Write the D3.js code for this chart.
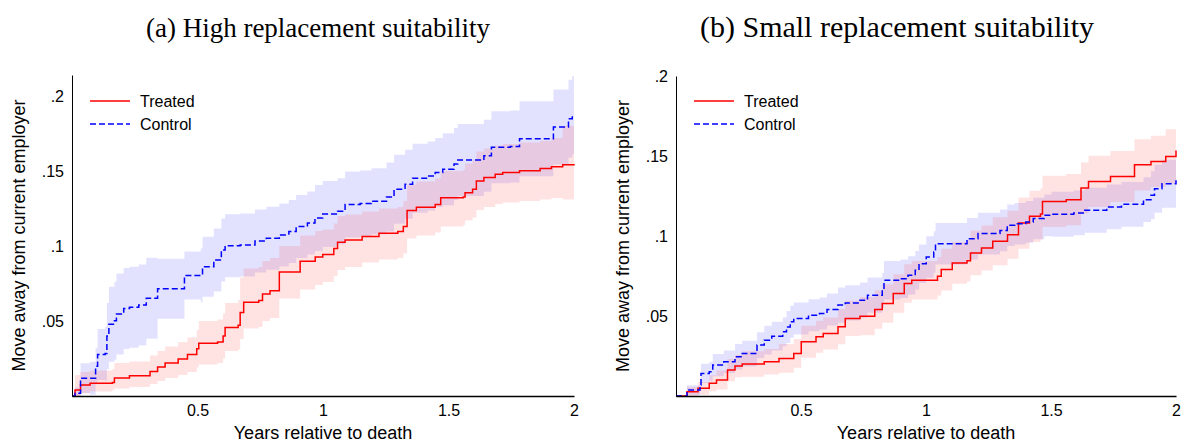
<!DOCTYPE html>
<html><head><meta charset="utf-8">
<script src="https://cdn.jsdelivr.net/npm/d3@7"></script>
<style>body{margin:0;background:#fff}</style></head>
<body><svg id="c" width="1182" height="441"></svg>
<script>
const titles = ["(a) High replacement suitability", "(b) Small replacement suitability"];
const xTicks = [0.5, 1, 1.5, 2];
const xTickLabels = ["0.5", "1", "1.5", "2"];
const yTicks = [0.05, 0.1, 0.15, 0.2];
const yTickLabels = [".05", ".1", ".15", ".2"];
const legendLabels = ["Treated", "Control"];

// Panel (a)
const treatedA_x = [0,.012,.034,.072,.161,.169,.229,.311,.341,.371,.423,.46,.497,.505,.58,.602,.61,.662,.67,.684,.744,.759,.789,.826,.901,.909,.969,.999,1.043,1.058,1.088,1.141,1.156,1.223,1.298,1.32,1.335,1.372,1.447,1.469,1.559,1.566,1.596,1.611,1.641,1.686,1.716,1.783,1.865,1.91,1.955,2];
const treatedA_y = [0,.004,.0074,.0085,.009,.012,.0135,.0164,.0193,.022,.0247,.0276,.0315,.0351,.036,.04,.0456,.0472,.0557,.0625,.0636,.068,.0702,.0826,.0826,.0898,.0927,.0943,.0984,.1025,.104,.104,.1063,.1085,.1097,.113,.1236,.1258,.1276,.1321,.1326,.1355,.1378,.1434,.1456,.1479,.149,.1501,.1517,.1528,.1542,.1546];
const treatedA_lo = [0,0,.002,.003,.004,.005,.006,.008,.01,.012,.014,.016,.019,.021,.022,.025,.03,.031,.038,.045,.046,.05,.052,.065,.065,.071,.074,.076,.08,.084,.086,.086,.089,.091,.092,.095,.105,.107,.109,.113,.114,.117,.119,.124,.126,.128,.129,.13,.131,.132,.131,.131];
const treatedA_hi = [0,.014,.016,.017,.018,.022,.023,.027,.03,.033,.036,.039,.044,.05,.051,.055,.062,.064,.079,.085,.086,.09,.092,.1,.1,.107,.11,.111,.115,.12,.121,.121,.123,.125,.126,.13,.141,.143,.145,.15,.151,.155,.157,.163,.165,.167,.168,.169,.17,.172,.18,.181];
const controlA_x = [0,.012,.034,.072,.094,.102,.132,.139,.147,.169,.177,.206,.229,.266,.296,.341,.446,.448,.513,.52,.565,.595,.61,.67,.729,.774,.826,.864,.893,.938,.968,.999,1.028,1.058,1.088,1.148,1.193,1.253,1.283,1.327,1.357,1.417,1.447,1.477,1.522,1.537,1.619,1.641,1.671,1.746,1.783,1.903,1.918,1.955,1.978,1.993,2];
const controlA_y = [0,.0018,.0119,.0119,.0198,.0276,.0283,.04,.0479,.0501,.0546,.0584,.0591,.0607,.0652,.0715,.0715,.0804,.0804,.0861,.0906,.0973,.1002,.1007,.1034,.1052,.1074,.1097,.113,.1153,.1187,.1213,.1213,.1231,.1276,.1283,.1299,.1326,.1378,.1411,.1452,.1467,.149,.1512,.1546,.1573,.1573,.1602,.1658,.1663,.1715,.1715,.1793,.1793,.1849,.1872,.1872];
const controlA_hw = [0,.004,.01,.011,.012,.017,.018,.022,.025,.026,.027,.027,.027,.027,.027,.02,.02,.016,.018,.02,.021,.021,.021,.021,.021,.021,.021,.021,.021,.021,.022,.022,.022,.022,.022,.022,.022,.023,.023,.023,.023,.023,.023,.024,.024,.024,.024,.024,.024,.024,.025,.025,.025,.025,.026,.026,.026];

// Panel (b)
const treatedB_x = [0,.044,.088,.133,.162,.206,.236,.265,.353,.412,.471,.501,.56,.589,.648,.677,.736,.795,.825,.869,.913,.943,.987,1.046,1.061,1.105,1.164,1.178,1.222,1.267,1.326,1.37,1.414,1.458,1.466,1.561,1.62,1.65,1.738,1.826,1.834,1.9,1.959,2];
const treatedB_y = [0,.0027,.0048,.0079,.01,.0162,.0187,.02,.0214,.0235,.0266,.0339,.037,.0391,.0433,.0485,.0499,.0541,.0578,.0641,.0703,.0723,.0723,.0748,.079,.0832,.0846,.0894,.0925,.0967,.1008,.1081,.1123,.1137,.1216,.1227,.13,.1341,.1372,.1372,.1445,.1466,.1497,.1535];
const treatedB_hw = [0,.003,.004,.005,.006,.007,.007,.008,.008,.009,.009,.01,.01,.01,.011,.011,.012,.012,.012,.012,.012,.012,.012,.012,.013,.013,.013,.014,.014,.015,.015,.016,.016,.016,.016,.016,.016,.016,.016,.016,.016,.016,.017,.017];
const controlB_x = [0,.044,.096,.1,.133,.147,.191,.236,.265,.324,.353,.383,.427,.442,.457,.471,.53,.574,.604,.648,.677,.736,.766,.825,.832,.898,.928,.957,.972,1.001,1.031,1.038,1.134,1.164,1.208,1.296,1.325,1.355,1.399,1.429,1.473,1.502,1.591,1.635,1.723,1.782,1.87,1.9,1.914,1.944,2];
const controlB_y = [0,.0037,.0069,.0141,.0152,.0193,.0214,.0245,.0266,.0318,.0349,.0374,.0401,.0432,.0464,.0484,.0505,.0516,.0541,.0568,.0582,.0599,.063,.0661,.0723,.0733,.0754,.0786,.0827,.0869,.09,.0952,.0952,.0983,.1015,.1035,.1067,.1077,.1088,.1109,.1129,.1136,.1144,.1161,.1182,.1198,.1227,.1254,.1296,.1327,.1348];
const controlB_hw = [0,.003,.004,.006,.006,.007,.007,.008,.008,.008,.009,.009,.009,.01,.01,.01,.01,.01,.01,.011,.011,.011,.011,.011,.012,.012,.012,.012,.012,.013,.013,.013,.013,.013,.013,.013,.013,.013,.013,.013,.013,.014,.014,.014,.014,.014,.014,.015,.015,.015,.015];

function mk(xs, ys, lo, hi){ return xs.map((x,i)=>({x, y:ys[i], lo:lo[i], hi:hi[i]})); }
function mkhw(xs, ys, hw){ return xs.map((x,i)=>({x, y:ys[i], lo:ys[i]-hw[i], hi:ys[i]+hw[i]})); }

const panels = [
  {left:72, right:574, top:75, bottom:396, ymax:0.214, title:titles[0], tx:318, tsize:27,
   treated: mk(treatedA_x, treatedA_y, treatedA_lo, treatedA_hi),
   control: mkhw(controlA_x, controlA_y, controlA_hw)},
  {left:676, right:1176, top:76, bottom:396, ymax:0.2, title:titles[1], tx:897, tsize:30,
   treated: mkhw(treatedB_x, treatedB_y, treatedB_hw),
   control: mkhw(controlB_x, controlB_y, controlB_hw)}
];

const svg = d3.select("#c");
const font = "Liberation Sans, Arial, sans-serif";
panels.forEach(p=>{
  const x = d3.scaleLinear().domain([0,2]).range([p.left,p.right]);
  const y = d3.scaleLinear().domain([0,p.ymax]).range([p.bottom,p.top]);
  const g = svg.append("g");
  const area = d3.area().curve(d3.curveStepAfter).x(d=>x(d.x)).y0(d=>y(Math.max(0,d.lo))).y1(d=>y(d.hi));
  const line = d3.line().curve(d3.curveStepAfter).x(d=>x(d.x)).y(d=>y(d.y));
  g.append("path").datum(p.control).attr("d",area).attr("fill","rgba(110,110,255,0.2)");
  g.append("path").datum(p.treated).attr("d",area).attr("fill","rgba(255,110,110,0.2)");
  g.append("path").datum(p.treated).attr("d",line).attr("fill","none").attr("stroke","#ff0000").attr("stroke-width",1.5);
  g.append("path").datum(p.control).attr("d",line).attr("fill","none").attr("stroke","#0000ff").attr("stroke-width",1.5).attr("stroke-dasharray","6,3");
  const xa = d3.axisBottom(x).tickValues(xTicks).tickFormat((d,i)=>xTickLabels[i]).tickSize(0).tickPadding(9);
  const gx = g.append("g").attr("transform",`translate(0,${p.bottom})`).call(xa);
  gx.select(".domain").attr("stroke","#000").attr("stroke-width",1.5);
  gx.selectAll("text").attr("font-family",font).attr("font-size",16).attr("fill","#000");
  const ya = d3.axisLeft(y).tickValues(yTicks).tickFormat((d,i)=>yTickLabels[i]).tickSize(0).tickPadding(8);
  const gy = g.append("g").attr("transform",`translate(${p.left},0)`).call(ya);
  gy.select(".domain").attr("stroke","#000").attr("stroke-width",1);
  gy.selectAll("text").attr("font-family",font).attr("font-size",16).attr("fill","#000");
  g.append("text").attr("x",(p.left+p.right)/2).attr("y",439).attr("text-anchor","middle")
    .attr("font-family",font).attr("font-size",18).text("Years relative to death");
  g.append("text").attr("transform",`translate(${p.left-47},${(p.top+p.bottom)/2}) rotate(-90)`).attr("text-anchor","middle")
    .attr("font-family",font).attr("font-size",18).text("Move away from current employer");
  g.append("text").attr("x",p.tx).attr("y",37).attr("text-anchor","middle")
    .attr("font-family","Liberation Serif, serif").attr("font-size",p.tsize).text(p.title);
  const lx = p.left+18;
  g.append("line").attr("x1",lx).attr("x2",lx+40).attr("y1",101).attr("y2",101).attr("stroke","#ff0000").attr("stroke-width",1.5);
  g.append("line").attr("x1",lx).attr("x2",lx+40).attr("y1",124).attr("y2",124).attr("stroke","#0000ff").attr("stroke-width",1.5).attr("stroke-dasharray","6,3");
  g.append("text").attr("x",lx+50).attr("y",107).attr("font-family",font).attr("font-size",16).text(legendLabels[0]);
  g.append("text").attr("x",lx+50).attr("y",130).attr("font-family",font).attr("font-size",16).text(legendLabels[1]);
});
</script></body></html>
